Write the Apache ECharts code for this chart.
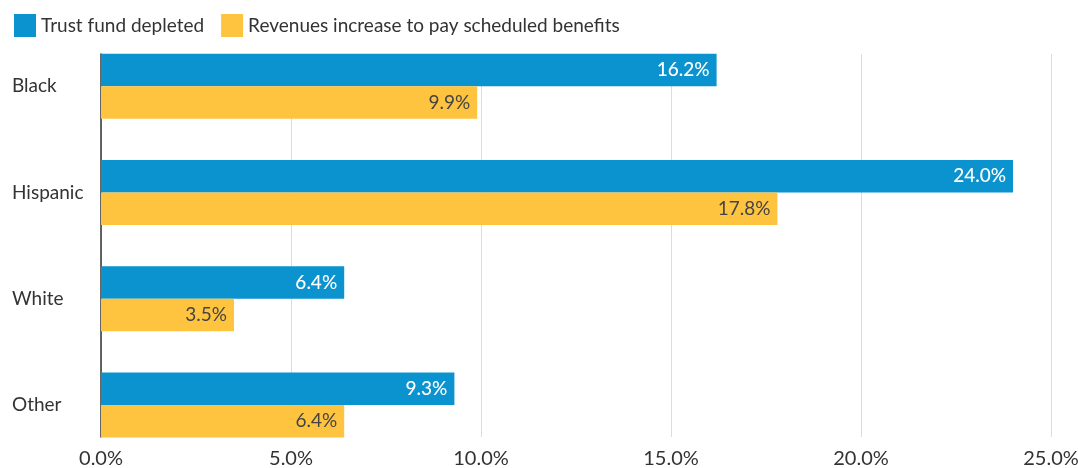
<!DOCTYPE html>
<html lang="en">
<head>
    <meta charset="UTF-8" />
    <title>Trust fund depletion by group</title>
    <script src="https://cdn.jsdelivr.net/npm/echarts@6/dist/echarts.min.js"></script>
    <style>
        html, body { margin: 0; padding: 0; background: #fff; }
        #chart { width: 1078px; height: 468px; }
    </style>
</head>
<body>
    <div id="chart"></div>

    <script>
        // data
        let groups = ["Black", "Hispanic", "White", "Other"];
        let seriesNames = ["Trust fund depleted", "Revenues increase to pay scheduled benefits"];
        let depleted = [16.2, 24.0, 6.4, 9.3];
        let revenues = [9.9, 17.8, 3.5, 6.4];
        let xTicks = [0, 5, 10, 15, 20, 25];

        let font = "Lato, 'Open Sans', sans-serif";
        let pct = v => v.toFixed(1) + "%";

        let myChart = echarts.init(document.getElementById("chart"));

        let option = {
            animation: false,
            textStyle: { fontFamily: font },
            legend: {
                data: seriesNames,
                left: 9,
                top: 9,
                itemWidth: 22,
                itemHeight: 23,
                itemGap: 17,
                icon: "rect",
                textStyle: { fontSize: 19, color: "#333", fontFamily: font },
            },
            grid: [
                // bars
                { left: 101, right: 27, top: 33, bottom: 10, outerBoundsMode: "none", containLabel: false },
                // axes, gridlines
                { left: 101, right: 27, top: 54, bottom: 31, outerBoundsMode: "none", containLabel: false },
            ],
            xAxis: [
                {
                    gridIndex: 0,
                    type: "value",
                    min: xTicks[0],
                    max: xTicks[xTicks.length - 1],
                    interval: 5,
                    show: false,
                },
                {
                    gridIndex: 1,
                    type: "value",
                    min: xTicks[0],
                    max: xTicks[xTicks.length - 1],
                    interval: 5,
                    axisLine: { show: false },
                    axisTick: { show: false },
                    splitLine: { lineStyle: { color: "#dcdcdc", width: 1 } },
                    axisLabel: {
                        formatter: pct,
                        fontSize: 20,
                        color: "#333",
                        margin: 12,
                        fontFamily: font,
                    },
                },
            ],
            yAxis: [
                {
                    gridIndex: 0,
                    type: "category",
                    data: groups,
                    inverse: true,
                    axisLine: { show: false },
                    axisTick: { show: false },
                    axisLabel: {
                        align: "left",
                        margin: 89,
                        fontSize: 19,
                        color: "#333",
                        fontFamily: font,
                    },
                },
                {
                    gridIndex: 1,
                    type: "value",
                    min: 0,
                    max: 1,
                    axisLine: { show: true, lineStyle: { color: "#333", width: 1.5 } },
                    axisTick: { show: false },
                    axisLabel: { show: false },
                    splitLine: { show: false },
                },
            ],
            series: [
                {
                    name: seriesNames[0],
                    type: "bar",
                    xAxisIndex: 0,
                    yAxisIndex: 0,
                    data: depleted,
                    barWidth: 32.5,
                    barGap: "0%",
                    itemStyle: { color: "#0a93cf" },
                    label: {
                        show: true,
                        position: "insideRight",
                        distance: 7,
                        formatter: p => pct(p.value),
                        color: "#fff",
                        fontSize: 19,
                        fontWeight: 500,
                        fontFamily: font,
                    },
                },
                {
                    name: seriesNames[1],
                    type: "bar",
                    xAxisIndex: 0,
                    yAxisIndex: 0,
                    data: revenues,
                    barWidth: 32.5,
                    barGap: "0%",
                    itemStyle: { color: "#fec440" },
                    label: {
                        show: true,
                        position: "insideRight",
                        distance: 7,
                        formatter: p => pct(p.value),
                        color: "#444",
                        fontSize: 19,
                        fontFamily: font,
                    },
                },
            ],
        };

        myChart.setOption(option);
    </script>
</body>
</html>
